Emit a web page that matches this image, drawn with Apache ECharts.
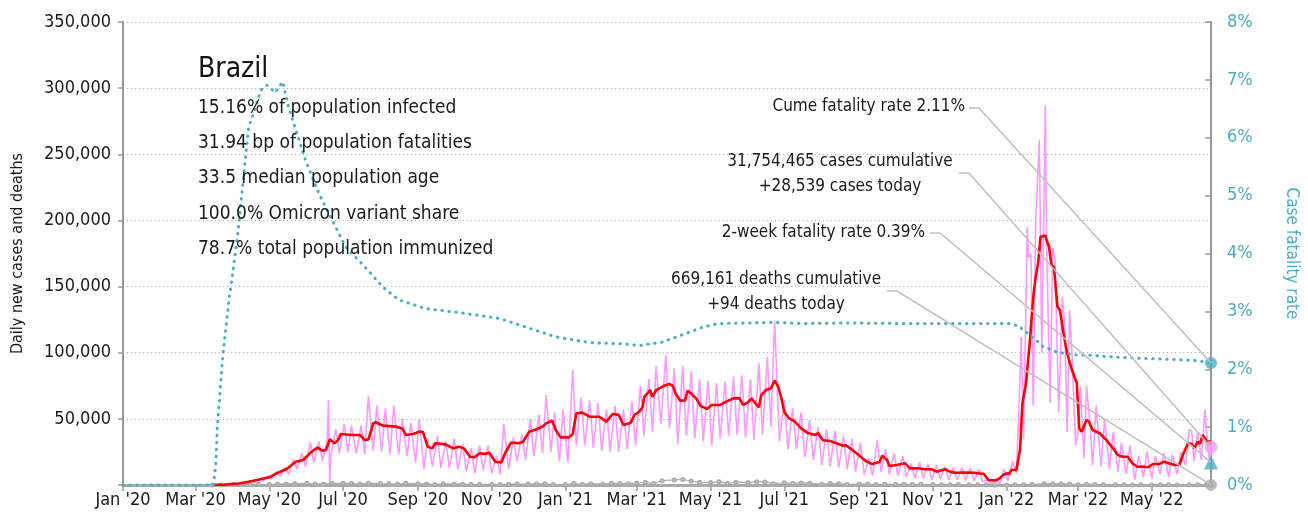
<!DOCTYPE html>
<html>
<head>
<meta charset="utf-8">
<script src="https://cdn.jsdelivr.net/npm/echarts@6/dist/echarts.min.js"></script>
<style>
  html, body { margin: 0; padding: 0; background: #fff; }
  #chart { width: 1308px; height: 522px; }
</style>
</head>
<body>
<div id="chart"></div>
<script>
// ---- Brazil COVID-19 dashboard: daily cases, 7-day average, deaths, case fatality rate ----

const FONT = "'Liberation Sans Narrow', 'DejaVu Sans Condensed', 'Roboto Condensed', Roboto, sans-serif";
const TEAL = '#4bacc6';
const PINK = '#ff99ff';
const RED = '#ff0000';
const GREY = '#aaaaaa';

const countryName = 'Brazil';
const statLines = [
  '15.16% of population infected',
  '31.94 bp of population fatalities',
  '33.5 median population age',
  '100.0% Omicron variant share',
  '78.7% total population immunized'
];

// Bi-monthly x-axis ticks
const tickMonths = [
  '2020-01', '2020-03', '2020-05', '2020-07', '2020-09', '2020-11',
  '2021-01', '2021-03', '2021-05', '2021-07', '2021-09', '2021-11',
  '2022-01', '2022-03', '2022-05'
];
const monthNames = ['Jan','Feb','Mar','Apr','May','Jun','Jul','Aug','Sep','Oct','Nov','Dec'];
const firstDay = '2020-01-01';
const lastDay = '2022-06-19';

// Daily new cases (raw)
const casesDaily = [
  ['2020-03-16',0],['2020-03-20',300],['2020-03-24',500],['2020-03-28',600],['2020-04-01',1500],['2020-04-05',800],
  ['2020-04-09',2000],['2020-04-13',1200],['2020-04-16',3500],['2020-04-19',2000],['2020-04-23',4500],['2020-04-26',2800],
  ['2020-04-30',7000],['2020-05-03',4500],['2020-05-07',10500],['2020-05-10',6500],['2020-05-14',13500],['2020-05-17',8000],
  ['2020-05-21',19500],['2020-05-24',12000],['2020-05-28',24000],['2020-05-31',14000],['2020-06-04',32000],['2020-06-07',17000],
  ['2020-06-11',33000],['2020-06-14',18000],['2020-06-18',35000],['2020-06-19',64000],['2020-06-20',800],['2020-06-21',22000],
  ['2020-06-25',42000],['2020-06-28',24000],['2020-07-02',46000],['2020-07-05',25000],['2020-07-08',45000],['2020-07-12',24000],
  ['2020-07-16',45000],['2020-07-19',23000],['2020-07-22',67000],['2020-07-26',26000],['2020-07-29',60000],['2020-08-02',25000],
  ['2020-08-05',58000],['2020-08-09',23000],['2020-08-12',60000],['2020-08-16',23000],['2020-08-19',50000],['2020-08-23',22000],
  ['2020-08-26',47000],['2020-08-30',17000],['2020-09-02',50000],['2020-09-06',12000],['2020-09-09',35000],['2020-09-13',14000],
  ['2020-09-17',37000],['2020-09-20',13000],['2020-09-24',33000],['2020-09-27',13000],['2020-10-01',35000],['2020-10-04',12000],
  ['2020-10-08',31000],['2020-10-11',10000],['2020-10-15',28000],['2020-10-18',9000],['2020-10-22',30000],['2020-10-25',11000],
  ['2020-10-29',30000],['2020-11-01',9000],['2020-11-05',22000],['2020-11-08',8000],['2020-11-11',46000],['2020-11-15',12000],
  ['2020-11-19',36000],['2020-11-22',18000],['2020-11-26',38000],['2020-11-29',19000],['2020-12-03',50000],['2020-12-06',22000],
  ['2020-12-10',53000],['2020-12-13',24000],['2020-12-16',68000],['2020-12-20',25000],['2020-12-23',55000],['2020-12-27',18000],
  ['2020-12-30',57000],['2021-01-03',17000],['2021-01-07',87000],['2021-01-10',30000],['2021-01-14',66000],['2021-01-17',30000],
  ['2021-01-21',64000],['2021-01-24',28000],['2021-01-28',62000],['2021-01-31',26000],['2021-02-04',57000],['2021-02-07',25000],
  ['2021-02-11',60000],['2021-02-14',25000],['2021-02-18',57000],['2021-02-21',27000],['2021-02-25',63000],['2021-02-28',30000],
  ['2021-03-04',75000],['2021-03-07',37000],['2021-03-11',80000],['2021-03-14',40000],['2021-03-17',90000],['2021-03-21',46000],
  ['2021-03-25',98000],['2021-03-28',43000],['2021-04-01',88000],['2021-04-04',31000],['2021-04-08',90000],['2021-04-11',37000],
  ['2021-04-15',86000],['2021-04-18',35000],['2021-04-22',80000],['2021-04-25',33000],['2021-04-29',79000],['2021-05-02',30000],
  ['2021-05-06',77000],['2021-05-09',35000],['2021-05-13',78000],['2021-05-16',37000],['2021-05-20',82000],['2021-05-23',38000],
  ['2021-05-27',83000],['2021-05-30',36000],['2021-06-03',80000],['2021-06-06',34000],['2021-06-10',92000],['2021-06-13',38000],
  ['2021-06-17',97000],['2021-06-20',44000],['2021-06-23',124000],['2021-06-27',33000],['2021-07-01',64000],['2021-07-04',27000],
  ['2021-07-08',58000],['2021-07-11',27000],['2021-07-15',55000],['2021-07-18',21000],['2021-07-22',49000],['2021-07-25',19000],
  ['2021-07-29',44000],['2021-08-01',15000],['2021-08-05',42000],['2021-08-08',14000],['2021-08-12',41000],['2021-08-15',13000],
  ['2021-08-19',37000],['2021-08-22',12000],['2021-08-26',35000],['2021-08-29',10000],['2021-09-02',32000],['2021-09-05',8000],
  ['2021-09-09',20000],['2021-09-12',7000],['2021-09-16',34000],['2021-09-19',10000],['2021-09-23',27000],['2021-09-26',8000],
  ['2021-09-30',24000],['2021-10-03',7000],['2021-10-07',22000],['2021-10-10',6000],['2021-10-14',16000],['2021-10-17',5000],
  ['2021-10-21',17000],['2021-10-24',5000],['2021-10-28',16000],['2021-10-31',4000],['2021-11-04',15000],['2021-11-07',4500],
  ['2021-11-11',14000],['2021-11-14',4000],['2021-11-18',13000],['2021-11-21',4000],['2021-11-25',13000],['2021-11-28',3500],
  ['2021-12-02',13000],['2021-12-05',3000],['2021-12-09',12000],['2021-12-12',2500],['2021-12-16',4000],['2021-12-19',1000],
  ['2021-12-23',5000],['2021-12-26',500],['2021-12-30',12000],['2022-01-02',3000],['2022-01-06',18000],['2022-01-09',9000],
  ['2022-01-11',54000],['2022-01-13',112000],['2022-01-15',35000],['2022-01-18',195000],['2022-01-19',172000],['2022-01-21',175000],
  ['2022-01-23',60000],['2022-01-25',200000],['2022-01-28',261000],['2022-01-30',100000],['2022-02-02',287000],['2022-02-03',180000],
  ['2022-02-06',62000],['2022-02-08',179000],['2022-02-10',170000],['2022-02-13',55000],['2022-02-16',142000],['2022-02-18',120000],
  ['2022-02-20',40000],['2022-02-22',132000],['2022-02-24',100000],['2022-02-27',30000],['2022-03-01',39000],['2022-03-03',74000],
  ['2022-03-06',20000],['2022-03-08',75000],['2022-03-11',45000],['2022-03-13',15000],['2022-03-16',60000],['2022-03-20',14000],
  ['2022-03-23',50000],['2022-03-27',12000],['2022-03-30',40000],['2022-04-03',10000],['2022-04-06',32000],['2022-04-10',8000],
  ['2022-04-13',30000],['2022-04-17',4000],['2022-04-20',22000],['2022-04-24',6000],['2022-04-27',25000],['2022-05-01',5000],
  ['2022-05-04',22000],['2022-05-08',8000],['2022-05-11',24000],['2022-05-15',6000],['2022-05-18',23000],['2022-05-22',8000],
  ['2022-05-25',25000],['2022-05-29',15000],['2022-06-01',42000],['2022-06-03',41000],['2022-06-05',18000],['2022-06-08',40000],
  ['2022-06-11',19000],['2022-06-14',57000],['2022-06-16',33000],['2022-06-18',17000],['2022-06-19',28539]
];

// 7-day average of new cases
const casesAvg = [
  ['2020-03-16',0],['2020-03-25',300],['2020-04-06',1100],['2020-04-17',3000],['2020-05-01',5800],['2020-05-07',8800],
  ['2020-05-15',11900],['2020-05-23',17600],['2020-05-29',18900],['2020-06-05',25200],['2020-06-10',28200],['2020-06-14',26000],
  ['2020-06-17',26500],['2020-06-20',34500],['2020-06-24',31500],['2020-06-27',34000],['2020-06-29',38500],['2020-07-09',37800],
  ['2020-07-15',37800],['2020-07-19',34000],['2020-07-22',34500],['2020-07-26',46600],['2020-07-28',47400],['2020-07-31',46100],
  ['2020-08-03',44900],['2020-08-14',44100],['2020-08-19',42800],['2020-08-22',37800],['2020-08-28',38500],['2020-09-02',40300],
  ['2020-09-05',40300],['2020-09-09',29000],['2020-09-13',27700],['2020-09-15',31500],['2020-09-24',30700],['2020-09-30',27700],
  ['2020-10-05',29000],['2020-10-09',27700],['2020-10-14',21400],['2020-10-18',21100],['2020-10-22',24000],['2020-10-26',23500],
  ['2020-10-30',24400],['2020-11-04',17600],['2020-11-09',17100],['2020-11-12',24000],['2020-11-17',32000],['2020-11-23',31500],
  ['2020-11-27',32700],['2020-12-02',40300],['2020-12-08',42100],['2020-12-13',44100],['2020-12-16',46600],['2020-12-21',48600],
  ['2020-12-24',41600],['2020-12-28',36000],['2021-01-04',36000],['2021-01-07',38500],['2021-01-10',54200],['2021-01-15',54700],
  ['2021-01-21',51600],['2021-01-29',51600],['2021-02-04',47900],['2021-02-09',53700],['2021-02-14',53000],['2021-02-18',45400],
  ['2021-02-24',47100],['2021-02-27',52900],['2021-03-03',55400],['2021-03-06',59200],['2021-03-07',66300],['2021-03-12',71800],
  ['2021-03-14',66700],['2021-03-17',71800],['2021-03-23',74800],['2021-03-28',76400],['2021-03-31',74800],['2021-04-02',69300],
  ['2021-04-06',63700],['2021-04-10',64000],['2021-04-12',71100],['2021-04-15',69300],['2021-04-19',65500],['2021-04-23',59700],
  ['2021-04-28',57500],['2021-05-02',60500],['2021-05-09',60500],['2021-05-14',63000],['2021-05-20',65500],['2021-05-25',65500],
  ['2021-05-28',60500],['2021-06-01',62400],['2021-06-04',65500],['2021-06-06',63000],['2021-06-10',58700],['2021-06-12',68000],
  ['2021-06-16',71800],['2021-06-20',73100],['2021-06-23',78900],['2021-06-26',74300],['2021-06-28',68000],['2021-07-01',55400],
  ['2021-07-05',50400],['2021-07-09',48600],['2021-07-15',42800],['2021-07-20',39600],['2021-07-26',37800],['2021-07-29',39100],
  ['2021-08-02',33800],['2021-08-08',33200],['2021-08-13',31500],['2021-08-19',29700],['2021-08-21',30000],['2021-08-27',26000],
  ['2021-09-01',22300],['2021-09-07',17800],['2021-09-12',15800],['2021-09-18',17600],['2021-09-20',22200],['2021-09-24',18900],
  ['2021-09-26',14400],['2021-10-02',15100],['2021-10-09',16400],['2021-10-13',12600],['2021-10-20',12600],['2021-10-25',11900],
  ['2021-10-31',11900],['2021-11-04',10100],['2021-11-11',11900],['2021-11-15',10100],['2021-11-19',9300],['2021-11-26',9500],
  ['2021-12-05',9300],['2021-12-09',8800],['2021-12-13',8500],['2021-12-17',3800],['2021-12-23',3400],['2021-12-26',5000],
  ['2021-12-29',7600],['2022-01-01',8800],['2022-01-03',8500],['2022-01-05',11300],['2022-01-09',11300],['2022-01-12',26500],
  ['2022-01-14',61800],['2022-01-17',76900],['2022-01-20',107100],['2022-01-23',142300],['2022-01-25',157500],['2022-01-27',167600],
  ['2022-01-29',187700],['2022-02-02',188500],['2022-02-03',185200],['2022-02-05',180100],['2022-02-07',166300],['2022-02-09',165000],
  ['2022-02-12',134800],['2022-02-14',132300],['2022-02-17',114700],['2022-02-20',99600],['2022-02-24',86900],['2022-02-28',76900],
  ['2022-03-02',42900],['2022-03-04',40300],['2022-03-08',49100],['2022-03-10',48000],['2022-03-13',41600],['2022-03-19',39100],
  ['2022-03-24',34500],['2022-03-30',27700],['2022-04-03',22700],['2022-04-07',21400],['2022-04-11',21400],['2022-04-15',16400],
  ['2022-04-19',13800],['2022-04-23',14000],['2022-04-28',13400],['2022-05-02',15900],['2022-05-07',15900],['2022-05-11',17600],
  ['2022-05-15',16500],['2022-05-20',15100],['2022-05-24',15500],['2022-05-27',23400],['2022-05-31',31500],['2022-06-03',31000],
  ['2022-06-05',27700],['2022-06-08',32700],['2022-06-10',31000],['2022-06-12',37800],['2022-06-15',34000],['2022-06-16',31000],
  ['2022-06-18',33500],['2022-06-19',31500]
];

// Daily deaths
const deathsDaily = [
  ['2020-03-15',0],['2020-03-22',25],['2020-04-01',200],['2020-04-08',130],['2020-04-15',200],['2020-04-22',380],
  ['2020-05-01',430],['2020-05-08',750],['2020-05-15',820],['2020-05-22',1000],['2020-06-01',1250],['2020-06-08',700],
  ['2020-06-15',620],['2020-06-22',1300],['2020-07-01',1250],['2020-07-08',1200],['2020-07-15',700],['2020-07-22',1400],
  ['2020-08-01',1050],['2020-08-08',900],['2020-08-15',700],['2020-08-22',1300],['2020-09-01',1000],['2020-09-08',800],
  ['2020-09-15',450],['2020-09-22',900],['2020-10-01',700],['2020-10-08',600],['2020-10-15',300],['2020-10-22',550],
  ['2020-11-01',400],['2020-11-08',300],['2020-11-15',600],['2020-11-22',700],['2020-12-01',700],['2020-12-08',850],
  ['2020-12-15',900],['2020-12-22',300],['2021-01-01',400],['2021-01-08',1100],['2021-01-15',550],['2021-01-22',1000],
  ['2021-02-01',600],['2021-02-08',1300],['2021-02-15',1100],['2021-02-22',1000],['2021-03-01',1500],['2021-03-08',2000],
  ['2021-03-15',1100],['2021-03-22',3300],['2021-04-01',3800],['2021-04-08',4200],['2021-04-15',3000],['2021-04-22',2000],
  ['2021-05-01',1800],['2021-05-08',2400],['2021-05-15',1200],['2021-05-22',2100],['2021-06-01',1800],['2021-06-08',2500],
  ['2021-06-15',2300],['2021-06-22',1000],['2021-07-01',1700],['2021-07-08',1200],['2021-07-15',1600],['2021-07-22',1400],
  ['2021-08-01',600],['2021-08-08',1100],['2021-08-15',900],['2021-08-22',400],['2021-09-01',700],['2021-09-08',700],
  ['2021-09-15',300],['2021-09-22',600],['2021-10-01',400],['2021-10-08',600],['2021-10-15',300],['2021-10-22',500],
  ['2021-11-01',300],['2021-11-08',200],['2021-11-15',100],['2021-11-22',300],['2021-12-01',250],['2021-12-08',200],
  ['2021-12-15',100],['2021-12-22',90],['2022-01-01',50],['2022-01-08',100],['2022-01-15',250],['2022-01-22',500],
  ['2022-02-01',900],['2022-02-08',1000],['2022-02-15',900],['2022-02-22',700],['2022-03-01',200],['2022-03-08',600],
  ['2022-03-15',450],['2022-03-22',250],['2022-04-01',200],['2022-04-08',150],['2022-04-15',80],['2022-04-22',150],
  ['2022-05-01',90],['2022-05-08',150],['2022-05-15',130],['2022-05-22',60],['2022-06-01',100],['2022-06-08',170],
  ['2022-06-15',140],['2022-06-19',94]
];

// Cumulative case fatality rate, %
const fatalityRate = [
  ['2020-01-01',0],['2020-03-16',0],['2020-03-18',0.43],['2020-03-19',1.0],['2020-03-21',1.52],['2020-03-23',2.1],
  ['2020-03-26',2.7],['2020-03-29',3.25],['2020-03-31',3.54],['2020-04-05',4.35],['2020-04-10',5.38],['2020-04-14',6.19],
  ['2020-04-18',6.42],['2020-04-24',6.82],['2020-04-29',6.91],['2020-05-06',6.78],['2020-05-12',6.97],['2020-05-17',6.53],
  ['2020-05-23',6.13],['2020-05-31',5.61],['2020-06-11',5.04],['2020-06-22',4.58],['2020-07-03',4.12],['2020-07-19',3.77],
  ['2020-08-03',3.42],['2020-08-16',3.20],['2020-09-07',3.05],['2020-10-08',2.97],['2020-11-07',2.88],['2020-12-02',2.71],
  ['2020-12-24',2.56],['2021-01-21',2.46],['2021-02-17',2.44],['2021-03-04',2.41],['2021-03-22',2.47],['2021-04-11',2.62],
  ['2021-04-25',2.73],['2021-05-08',2.79],['2021-06-05',2.80],['2021-06-24',2.81],['2021-07-14',2.79],['2021-08-23',2.80],
  ['2021-10-12',2.79],['2021-12-01',2.79],['2022-01-03',2.79],['2022-01-12',2.74],['2022-01-14',2.68],['2022-01-20',2.60],
  ['2022-01-23',2.53],['2022-01-28',2.46],['2022-01-31',2.39],['2022-02-05',2.35],['2022-02-11',2.30],['2022-02-25',2.25],
  ['2022-03-13',2.24],['2022-03-24',2.22],['2022-04-21',2.19],['2022-05-19',2.17],['2022-06-07',2.15],['2022-06-19',2.11]
];

// Latest readings shown with end markers
const cumeFatalityRate = 2.11;
const twoWeekFatalityRate = 0.39;
const casesToday = 28539;
const deathsToday = 94;

// Annotation texts
const noteCume = ['Cume fatality rate 2.11%'];
const noteCases = ['31,754,465 cases cumulative', '+28,539 cases today'];
const noteTwoWeek = ['2-week fatality rate 0.39%'];
const noteDeaths = ['669,161 deaths cumulative', '+94 deaths today'];

// dates -> local timestamps for the numeric x axis
function localTime(s) {
  const p = s.split('-').map(Number);
  return new Date(p[0], p[1] - 1, p[2] || 1).getTime();
}
function toXY(rows) {
  return rows.map(function (r) { return [localTime(r[0]), r[1]]; });
}
const tickValues = tickMonths.map(localTime);
const xMin = localTime(firstDay);
const xMax = localTime(lastDay);

const chart = echarts.init(document.getElementById('chart'), null, { renderer: 'canvas' });

const option = {
  animation: false,
  backgroundColor: '#fff',
  textStyle: { fontFamily: FONT },
  grid: { left: 123, right: 96, top: 22, bottom: 37 },
  xAxis: {
    type: 'value',
    min: xMin,
    max: xMax,
    axisLine: { lineStyle: { color: '#aaa', width: 3 } },
    axisTick: { show: true, customValues: tickValues, length: 6, lineStyle: { color: '#999', width: 1.5 } },
    axisLabel: {
      customValues: tickValues,
      color: '#1a1a1a', fontSize: 18, fontFamily: FONT, margin: 6,
      formatter: function (v) {
        const d = new Date(v);
        return monthNames[d.getMonth()] + " '" + String(d.getFullYear()).slice(2);
      }
    },
    splitLine: { show: false }
  },
  yAxis: [
    {
      type: 'value', min: 0, max: 350000, interval: 50000,
      name: 'Daily new cases and deaths', nameLocation: 'middle', nameGap: 97,
      nameTextStyle: { color: '#1a1a1a', fontSize: 16, fontFamily: FONT },
      axisLine: { show: true, lineStyle: { color: '#999', width: 2 } },
      axisTick: { show: true, length: 5, lineStyle: { color: '#999', width: 1.5 } },
      axisLabel: {
        color: '#1a1a1a', fontSize: 18, fontFamily: FONT, margin: 12,
        formatter: function (v) { return v === 0 ? '' : v.toLocaleString('en-US'); }
      },
      splitLine: { show: true, lineStyle: { type: [1.2, 2.8], color: '#b0b0b0', width: 1 } }
    },
    {
      type: 'value', min: 0, max: 8, interval: 1, position: 'right',
      name: 'Case fatality rate', nameLocation: 'middle', nameGap: 72, nameRotate: -90,
      nameTextStyle: { color: TEAL, fontSize: 17, fontFamily: FONT },
      axisLine: { show: true, lineStyle: { color: '#999', width: 2 } },
      axisTick: { show: true, inside: true, length: 6, lineStyle: { color: '#999', width: 1.5 } },
      axisLabel: { color: TEAL, fontSize: 18, fontFamily: FONT, margin: 16, formatter: '{value}%' },
      splitLine: { show: false }
    }
  ],
  series: [
    {
      name: 'Daily new cases', type: 'line', data: toXY(casesDaily), yAxisIndex: 0,
      showSymbol: false, symbol: 'none', z: 2,
      lineStyle: { color: PINK, width: 1.6 }
    },
    {
      name: 'Daily deaths', type: 'line', data: toXY(deathsDaily), yAxisIndex: 0,
      symbol: 'emptyCircle', symbolSize: 3, showSymbol: true, z: 3,
      itemStyle: { color: GREY, borderColor: GREY, borderWidth: 1 },
      lineStyle: { color: GREY, width: 1.2 }
    },
    {
      name: '7-day average', type: 'line', data: toXY(casesAvg), yAxisIndex: 0,
      showSymbol: false, symbol: 'none', z: 4,
      lineStyle: { color: RED, width: 2.6 }
    },
    {
      name: 'Case fatality rate', type: 'line', data: toXY(fatalityRate), yAxisIndex: 1,
      showSymbol: false, symbol: 'none', z: 5,
      lineStyle: { color: TEAL, width: 3, type: [0.5, 6.5], cap: 'round' }
    },
    {
      name: 'Cume fatality rate', type: 'scatter', yAxisIndex: 1, clip: false, z: 10,
      data: [[xMax, cumeFatalityRate]], symbol: 'circle', symbolSize: 12,
      itemStyle: { color: TEAL }
    },
    {
      name: 'Cases today', type: 'scatter', yAxisIndex: 0, clip: false, z: 10,
      data: [[xMax, casesToday]], symbol: 'circle', symbolSize: 13,
      itemStyle: { color: PINK }
    },
    {
      name: '2-week fatality rate', type: 'scatter', yAxisIndex: 1, clip: false, z: 10,
      data: [[xMax, twoWeekFatalityRate]], symbol: 'triangle', symbolSize: 14,
      itemStyle: { color: TEAL }
    },
    {
      name: 'Deaths today', type: 'scatter', yAxisIndex: 0, clip: false, z: 10,
      data: [[xMax, deathsToday]], symbol: 'circle', symbolSize: 12,
      itemStyle: { color: GREY }
    }
  ]
};

chart.setOption(option);

// ---- Text block and leader-line annotations ----
function px(axisIdx, v) {
  return chart.convertToPixel({ xAxisIndex: 0, yAxisIndex: axisIdx }, [xMax, v]);
}

const annoFont = '17px ' + FONT;
const elements = [];

elements.push({
  type: 'text', x: 198, y: 70, z: 100,
  style: { text: countryName, font: '500 28px ' + FONT, fill: '#111', textAlign: 'left', textVerticalAlign: 'middle' }
});
statLines.forEach(function (t, i) {
  elements.push({
    type: 'text', x: 198, y: 108 + i * 35.2, z: 100,
    style: { text: t, font: '19px ' + FONT, fill: '#1a1a1a', textAlign: 'left', textVerticalAlign: 'middle' }
  });
});

// label block: lines, anchor for text, start of leader, target marker
const notes = [
  { lines: noteCume, align: 'right', x: 965, y: 107, lead: [969, 108], target: px(1, cumeFatalityRate) },
  { lines: noteCases, align: 'center', x: 840, y: 162, lead: [959, 173], target: px(0, casesToday) },
  { lines: noteTwoWeek, align: 'right', x: 925, y: 233, lead: [930, 233], target: px(1, twoWeekFatalityRate) },
  { lines: noteDeaths, align: 'center', x: 776, y: 280, lead: [887, 291], target: px(0, deathsToday) }
];
notes.forEach(function (n) {
  n.lines.forEach(function (t, i) {
    elements.push({
      type: 'text', x: n.x, y: n.y + i * 25, z: 100,
      style: { text: t, font: annoFont, fill: '#1a1a1a', textAlign: n.align, textVerticalAlign: 'middle' }
    });
  });
  elements.push({
    type: 'polyline', z: 90, silent: true,
    shape: { points: [n.lead, [n.lead[0] + 10, n.lead[1]], n.target] },
    style: { stroke: '#c0c0c0', lineWidth: 1.5, fill: null }
  });
});

chart.setOption({ graphic: { elements: elements } });
</script>
</body>
</html>
